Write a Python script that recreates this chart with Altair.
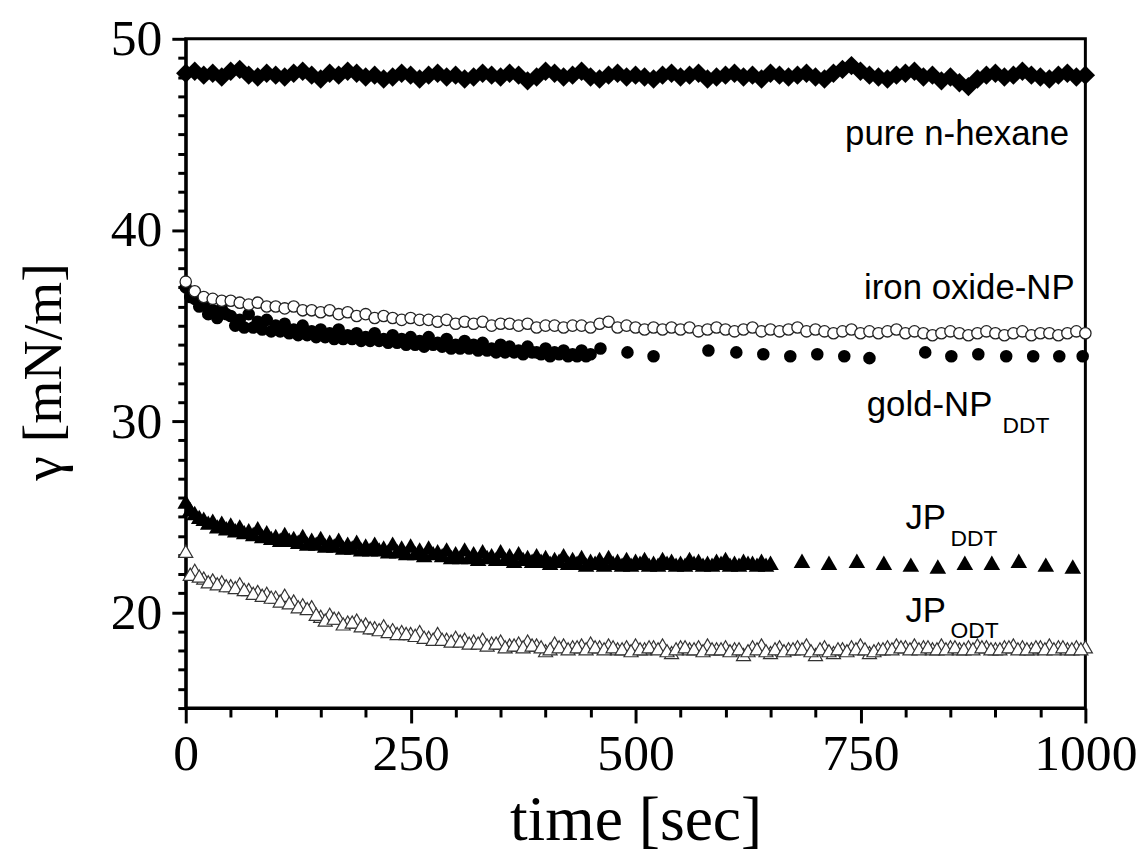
import altair as alt
import pandas as pd

# ---------------- data ----------------
t_full = list(range(0, 1001, 10))
t_half = list(range(5, 1000, 10))

hexane = [48.2, 48.3, 48.1, 48.2, 48.0, 48.3, 48.4, 48.1, 48.0, 48.2,
          48.1, 48.0, 48.2, 48.3, 48.1, 47.9, 48.2, 48.1, 48.3, 48.2,
          48.0, 48.1, 47.9, 48.0, 48.2, 48.1, 47.9, 48.1, 48.2, 48.0,
          48.1, 47.9, 48.0, 48.2, 48.1, 48.0, 48.2, 48.1, 47.8, 48.0,
          48.3, 48.2, 48.0, 48.1, 48.3, 48.0, 47.9, 48.1, 48.2, 48.0,
          48.1, 48.0, 47.9, 48.1, 48.2, 48.0, 48.1, 48.2, 47.9, 48.0,
          48.1, 48.2, 48.0, 48.1, 47.9, 48.2, 48.1, 48.0, 48.1, 48.2,
          48.0, 47.9, 48.2, 48.4, 48.6, 48.3, 48.1, 48.0, 47.9, 48.1,
          48.2, 48.3, 48.0, 48.1, 47.8, 48.0, 47.7, 47.5, 47.9, 48.1,
          48.2, 48.0, 48.1, 48.3, 48.1, 48.0, 47.9, 48.1, 48.2, 48.0, 48.1]

iron = [37.3, 36.8, 36.5, 36.4, 36.3, 36.3, 36.2, 36.1, 36.2, 36.0,
        36.0, 35.9, 36.0, 35.8, 35.8, 35.7, 35.8, 35.6, 35.7, 35.5,
        35.6, 35.4, 35.5, 35.4, 35.3, 35.4, 35.3, 35.3, 35.2, 35.3,
        35.1, 35.2, 35.1, 35.2, 35.0, 35.1, 35.1, 35.0, 35.1, 34.9,
        35.0, 35.0, 34.9, 35.0, 35.0, 34.9, 35.1, 35.2, 34.9, 35.0,
        34.9, 34.8, 34.9, 34.8, 34.9, 34.8, 34.9, 34.7, 34.8, 34.9,
        34.8, 34.7, 34.8, 34.9, 34.7, 34.8, 34.7, 34.8, 34.9, 34.7,
        34.8, 34.7, 34.6, 34.7, 34.8, 34.6, 34.7, 34.6, 34.7, 34.8,
        34.6, 34.7, 34.6, 34.5, 34.6, 34.7, 34.6, 34.5, 34.6, 34.7,
        34.6, 34.5, 34.6, 34.7, 34.5, 34.6, 34.6, 34.5, 34.6, 34.7, 34.6]

t_gold_dense = list(range(0, 451, 10))
gold_dense = [37.0, 36.4, 36.1, 35.8, 35.9, 35.5, 35.3, 35.6, 35.2, 35.3,
              35.0, 35.1, 34.8, 35.0, 34.7, 34.8, 34.6, 34.8, 34.5, 34.6,
              34.4, 34.6, 34.3, 34.5, 34.3, 34.4, 34.2, 34.4, 34.1, 34.3,
              34.0, 34.2, 34.0, 34.1, 33.8, 34.0, 33.9, 33.7, 33.9, 33.6,
              33.8, 33.6, 33.7, 33.5, 33.7, 33.5]
t_gold_mid = list(range(5, 446, 10))
gold_mid = [36.5, 36.0, 35.6, 35.4, 35.6, 35.0, 34.9, 34.9, 34.8, 34.7,
            34.7, 34.6, 34.5, 34.5, 34.4, 34.4, 34.3, 34.3, 34.3, 34.2,
            34.2, 34.2, 34.1, 34.1, 34.0, 34.0, 33.9, 34.0, 33.9, 33.8,
            33.8, 33.8, 33.7, 33.7, 33.6, 33.6, 33.6, 33.5, 33.6, 33.5,
            33.4, 33.5, 33.4, 33.4, 33.4]
t_gold_sparse = [461, 491, 520, 581, 612, 642, 672, 702, 732, 760,
                 822, 851, 881, 912, 942, 971, 997]
gold_sparse = [33.8, 33.6, 33.4, 33.7, 33.6, 33.5, 33.4, 33.5, 33.4, 33.3,
               33.6, 33.4, 33.5, 33.4, 33.4, 33.4, 33.4]

t_ddt_dense = list(range(0, 651, 10))
ddt_dense = [25.8, 25.2, 24.9, 24.8, 24.7, 24.6, 24.5, 24.3, 24.4, 24.2,
             24.0, 24.1, 23.9, 24.0, 23.8, 23.9, 23.7, 23.8, 23.6, 23.7,
             23.5, 23.6, 23.4, 23.6, 23.4, 23.5, 23.3, 23.4, 23.2, 23.3,
             23.1, 23.3, 23.1, 23.2, 23.0, 23.2, 23.0, 23.1, 22.9, 23.0,
             22.9, 22.8, 23.0, 22.8, 22.9, 22.7, 22.8, 22.9, 22.7, 22.8,
             22.7, 22.8, 22.6, 22.8, 22.7, 22.6, 22.8, 22.7, 22.6, 22.7,
             22.8, 22.6, 22.7, 22.6, 22.7, 22.6]
t_ddt_mid = list(range(5, 646, 10))
ddt_mid = [25.4, 25.0, 24.7, 24.5, 24.4, 24.3, 24.2, 24.1, 24.0, 23.9,
           23.8, 23.8, 23.7, 23.6, 23.6, 23.5, 23.5, 23.4, 23.4, 23.3,
           23.3, 23.3, 23.2, 23.2, 23.1, 23.1, 23.0, 23.1, 23.0, 22.9,
           22.9, 22.9, 22.8, 22.9, 22.8, 22.8, 22.7, 22.8, 22.7, 22.7,
           22.6, 22.7, 22.6, 22.6, 22.5, 22.6, 22.5, 22.6, 22.5, 22.5,
           22.6, 22.5, 22.5, 22.6, 22.5, 22.5, 22.6, 22.5, 22.5, 22.6,
           22.5, 22.5, 22.6, 22.5, 22.5]
t_ddt_sparse = [685, 715, 746, 776, 806, 836, 866, 896, 926, 956, 986]
ddt_sparse = [22.7, 22.6, 22.7, 22.6, 22.5, 22.4, 22.6, 22.6, 22.7, 22.5, 22.4]

odt = [23.2, 22.2, 21.8, 21.7, 21.6, 21.4, 21.5, 21.2, 21.1, 21.0,
       20.8, 20.9, 20.6, 20.4, 20.3, 19.8, 19.9, 19.7, 19.5, 19.6,
       19.4, 19.2, 19.3, 19.1, 19.0, 18.9, 19.0, 18.7, 18.9, 18.6,
       18.7, 18.6, 18.5, 18.6, 18.4, 18.5, 18.3, 18.4, 18.5, 18.3,
       18.0, 18.4, 18.3, 18.2, 18.3, 18.4, 18.2, 18.3, 18.1, 18.2,
       18.3, 18.1, 18.2, 18.3, 17.9, 18.2, 18.1, 18.2, 18.3, 18.1,
       18.2, 18.1, 17.8, 18.2, 18.3, 17.9, 18.2, 18.1, 18.2, 18.3,
       17.8, 18.2, 17.9, 18.1, 18.2, 18.3, 17.9, 18.1, 18.2, 18.3,
       18.2, 18.3, 18.2, 18.1, 18.3, 18.2, 18.1, 18.2, 18.3, 18.2,
       18.1, 18.2, 18.3, 18.2, 18.1, 18.2, 18.3, 18.2, 18.1, 18.2, 18.2]
odt_mid = [22.0, 21.9, 21.6, 21.5, 21.4, 21.3, 21.2, 21.0, 20.9, 20.8,
           20.6, 20.5, 20.3, 20.2, 19.9, 19.6, 19.7, 19.4, 19.5, 19.3,
           19.2, 19.1, 19.0, 18.9, 18.9, 18.8, 18.7, 18.6, 18.6, 18.5,
           18.5, 18.4, 18.4, 18.3, 18.4, 18.2, 18.3, 18.2, 18.3, 18.2,
           18.1, 18.2, 18.1, 18.2, 18.1, 18.2, 18.1, 18.2, 18.1, 18.0,
           18.1, 18.2, 18.1, 18.0, 18.1, 18.2, 18.1, 18.0, 18.1, 18.1,
           18.0, 18.1, 18.0, 18.1, 18.0, 18.1, 18.0, 18.1, 18.1, 18.0,
           18.1, 18.0, 18.1, 18.0, 18.1, 18.1, 18.0, 18.1, 18.1, 18.2,
           18.1, 18.1, 18.2, 18.1, 18.1, 18.2, 18.1, 18.1, 18.2, 18.1,
           18.1, 18.2, 18.1, 18.1, 18.2, 18.1, 18.1, 18.2, 18.1, 18.1]

# annotation labels (text, time, value)
right_text = ["pure n-hexane", "iron oxide-NP"]
right_x = [982, 988]
right_y = [44.44, 36.40]
left_text = ["gold-NP", "JP", "JP"]
left_x = [757, 800, 800]
left_y = [30.27, 24.35, 19.52]
sub_text = ["DDT", "DDT", "ODT"]
sub_x = [908, 850, 850]
sub_y = [29.39, 23.47, 18.64]

# ---------------- build tables ----------------
df_hex = pd.DataFrame({"t": t_full, "v": hexane})
df_iron = pd.DataFrame({"t": t_full, "v": iron})
df_gold = pd.DataFrame({"t": t_gold_dense + t_gold_mid + t_gold_sparse,
                        "v": gold_dense + gold_mid + gold_sparse})
df_ddt = pd.DataFrame({"t": t_ddt_dense + t_ddt_mid + t_ddt_sparse,
                       "v": ddt_dense + ddt_mid + ddt_sparse})
df_odt = pd.DataFrame({"t": t_full + t_half, "v": odt + odt_mid})
df_right = pd.DataFrame({"text": right_text, "t": right_x, "v": right_y})
df_left = pd.DataFrame({"text": left_text, "t": left_x, "v": left_y})
df_sub = pd.DataFrame({"text": sub_text, "t": sub_x, "v": sub_y})

SERIF = "Liberation Serif"
SANS = "Liberation Sans"

x_enc = alt.X(
    "t:Q",
    scale=alt.Scale(domain=[0, 1000], nice=False, zero=False),
    axis=alt.Axis(
        values=list(range(0, 1001, 50)),
        format="d",
        labelExpr="datum.value % 250 === 0 ? datum.label : ''",
        tickSize={"condition": {"test": "datum.value % 250 === 0", "value": 15}, "value": 9},
        tickWidth=3, tickColor="black",
        domainWidth=3, domainColor="black",
        labelFont=SERIF, labelFontSize=52, labelColor="black",
        labelPadding=6, labelFlush=False, labelOverlap=False,
        title="time [sec]", titleFont=SERIF, titleFontSize=64, titleFontWeight="normal",
        titleColor="black", titleX=453, titleY=132, titleAlign="center",
        titleBaseline="alphabetic", grid=False,
    ),
)
y_enc = alt.Y(
    "v:Q",
    scale=alt.Scale(domain=[15, 50], nice=False, zero=False),
    axis=alt.Axis(
        values=list(range(15, 51, 1)),
        format="d",
        labelExpr="datum.value % 10 === 0 ? datum.label : ''",
        tickSize={"condition": {"test": "datum.value % 10 === 0", "value": 14}, "value": 8},
        tickWidth=3, tickColor="black",
        domainWidth=3, domainColor="black",
        labelFont=SERIF, labelFontSize=52, labelColor="black",
        labelPadding=10, labelFlush=False, labelOverlap=False,
        title="γ [mN/m]", titleFont=SERIF, titleFontSize=56, titleFontWeight="normal",
        titleColor="black", titleX=-143, titleY=335, titleAngle=270,
        titleAlign="center", titleBaseline="middle", grid=False,
    ),
)

hex_layer = alt.Chart(df_hex).mark_point(
    shape="diamond", filled=True, color="black", size=380, opacity=1
).encode(x=x_enc, y=y_enc)

gold_layer = alt.Chart(df_gold).mark_point(
    shape="circle", filled=True, color="black", size=160, opacity=1
).encode(x=x_enc, y=y_enc)

iron_layer = alt.Chart(df_iron).mark_point(
    shape="circle", filled=True, fill="white", stroke="#222222", strokeWidth=1.3,
    size=130, opacity=1
).encode(x=x_enc, y=y_enc)

ddt_layer = alt.Chart(df_ddt).mark_point(
    shape="triangle-up", filled=True, color="black", size=280, opacity=1
).encode(x=x_enc, y=y_enc)

odt_layer = alt.Chart(df_odt).mark_point(
    shape="triangle-up", filled=True, fill="white", stroke="#333333", strokeWidth=1.2,
    size=200, opacity=1
).encode(x=x_enc, y=y_enc)

right_layer = alt.Chart(df_right).mark_text(
    font=SANS, fontSize=35, color="black", baseline="alphabetic", align="right"
).encode(x=x_enc, y=y_enc, text="text:N")

left_layer = alt.Chart(df_left).mark_text(
    font=SANS, fontSize=35, color="black", baseline="alphabetic", align="left"
).encode(x=x_enc, y=y_enc, text="text:N")

sub_layer = alt.Chart(df_sub).mark_text(
    font=SANS, fontSize=23, color="black", baseline="alphabetic", align="left"
).encode(x=x_enc, y=y_enc, text="text:N")

chart = alt.layer(
    hex_layer, gold_layer, iron_layer, ddt_layer, odt_layer,
    right_layer, left_layer, sub_layer
).properties(
    width=906, height=674,
    autosize=alt.AutoSizeParams(type="none"),
    padding={"left": 179, "top": 28, "right": 53, "bottom": 149},
).configure_view(
    stroke="black", strokeWidth=3
)

chart.save("out.html", embed_options={"renderer": "svg", "actions": False})
